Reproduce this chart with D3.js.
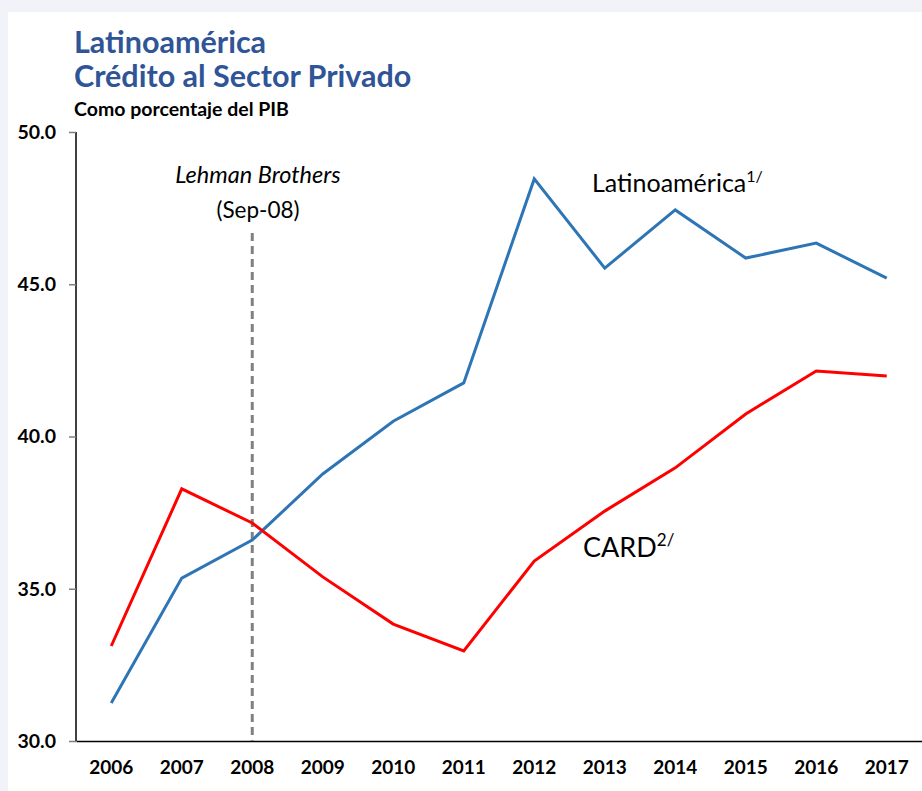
<!DOCTYPE html>
<html>
<head>
<meta charset="utf-8">
<script src="https://cdn.jsdelivr.net/npm/d3@7"></script>
<style>
  body { margin: 0; background: #f2f3f8; }
  svg { display: block; }
</style>
</head>
<body>
<div id="chart"></div>
<script>
let years = ['2006', '2007', '2008', '2009', '2010', '2011', '2012', '2013', '2014', '2015', '2016', '2017']
let latam = [31.25, 35.35, 36.6, 38.77, 40.5, 41.76, 48.46, 45.53, 47.44, 45.86, 46.35, 45.2]
let card = [33.12, 38.28, 37.16, 35.39, 33.84, 32.96, 35.91, 37.55, 38.97, 40.74, 42.15, 41.99]
let yTicks = [30, 35, 40, 45, 50]

let width = 922
let height = 791
let margin = { top: 132, left: 76, right: 0, bottom: 50 }

let svg = d3
  .select('#chart')
  .append('svg')
  .attr('width', width)
  .attr('height', height)

// white panel
svg
  .append('rect')
  .attr('x', 8)
  .attr('y', 12)
  .attr('width', width - 8)
  .attr('height', height - 12)
  .attr('fill', 'white')

let xScale = d3
  .scaleBand()
  .domain(years)
  .range([margin.left, width - margin.right])

let yScale = d3
  .scaleLinear()
  .domain([30, 50])
  .range([height - margin.bottom, margin.top])

let font = 'Lato, "Open Sans", sans-serif'

// titles
svg
  .append('text')
  .attr('x', 74)
  .attr('y', 53)
  .attr('font-family', font)
  .attr('font-weight', 'bold')
  .attr('font-size', 30.5)
  .attr('fill', '#2f5597')
  .text('Latinoamérica')

svg
  .append('text')
  .attr('x', 74)
  .attr('y', 87)
  .attr('font-family', font)
  .attr('font-weight', 'bold')
  .attr('font-size', 30.5)
  .attr('fill', '#2f5597')
  .text('Crédito al Sector Privado')

svg
  .append('text')
  .attr('x', 74)
  .attr('y', 116)
  .attr('font-family', font)
  .attr('font-weight', 'bold')
  .attr('font-size', 19.5)
  .attr('fill', 'black')
  .text('Como porcentaje del PIB')

// axes
let yAxis = d3
  .axisLeft(yScale)
  .tickValues(yTicks)
  .tickSize(7)
  .tickPadding(13)
  .tickFormat(d3.format('.1f'))

let yG = svg
  .append('g')
  .attr('transform', `translate(${margin.left},0)`)
  .call(yAxis)

yG.select('.domain').attr('stroke', 'black').attr('stroke-width', 1.5).attr('d', `M0,${yScale(50)}V${yScale(30)}`)
yG.selectAll('.tick line').attr('stroke', '#7f7f7f').attr('stroke-width', 1.5)
yG.selectAll('.tick text')
  .attr('font-family', font)
  .attr('font-weight', 'bold')
  .attr('font-size', 19.5)
  .attr('fill', 'black')

let xAxis = d3.axisBottom(xScale).tickSize(0).tickPadding(20)

let xG = svg
  .append('g')
  .attr('transform', `translate(0,${yScale(30)})`)
  .call(xAxis)

xG.select('.domain').attr('stroke', 'black').attr('stroke-width', 1.5)
xG.selectAll('.tick text')
  .attr('font-family', font)
  .attr('font-weight', 'bold')
  .attr('font-size', 19)
  .attr('fill', 'black')

// Lehman line
let lehmanX = xScale('2008') + xScale.bandwidth() / 2
svg
  .append('line')
  .attr('x1', lehmanX)
  .attr('x2', lehmanX)
  .attr('y1', 233)
  .attr('y2', yScale(30))
  .attr('stroke', '#808080')
  .attr('stroke-width', 3)
  .attr('stroke-dasharray', '8,5')

svg
  .append('text')
  .attr('x', 258)
  .attr('y', 183)
  .attr('text-anchor', 'middle')
  .attr('font-family', font)
  .attr('font-style', 'italic')
  .attr('font-size', 23.5)
  .text('Lehman Brothers')

svg
  .append('text')
  .attr('x', 258)
  .attr('y', 218)
  .attr('text-anchor', 'middle')
  .attr('font-family', font)
  .attr('font-size', 22.5)
  .text('(Sep-08)')

// lines
let line = d3
  .line()
  .x((d, i) => xScale(years[i]) + xScale.bandwidth() / 2)
  .y(d => yScale(d))

svg
  .append('path')
  .datum(latam)
  .attr('d', line)
  .attr('fill', 'none')
  .attr('stroke', '#2e75b6')
  .attr('stroke-width', 3)

svg
  .append('path')
  .datum(card)
  .attr('d', line)
  .attr('fill', 'none')
  .attr('stroke', '#ff0000')
  .attr('stroke-width', 3)

// series labels
let latLabel = svg
  .append('text')
  .attr('x', 592)
  .attr('y', 192)
  .attr('font-family', font)
  .attr('font-size', 25)
latLabel.append('tspan').text('Latinoamérica')
latLabel.append('tspan').attr('font-size', 16).attr('dy', -10).text('1/')

let cardLabel = svg
  .append('text')
  .attr('x', 583)
  .attr('y', 557)
  .attr('font-family', font)
  .attr('font-size', 27)
cardLabel.append('tspan').text('CARD')
cardLabel.append('tspan').attr('font-size', 17).attr('dy', -11).text('2/')
</script>
</body>
</html>
